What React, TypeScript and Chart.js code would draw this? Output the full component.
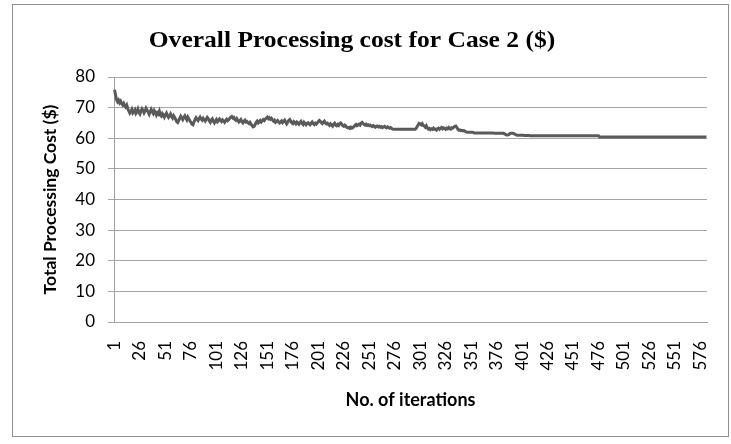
import React, { useEffect, useRef } from "react";
import { Chart, registerables } from "chart.js";

Chart.register(...registerables);

// Total processing cost per iteration (Case 2)
const costs: number[] = [
  75.8, 74.2, 72.6, 71.9, 72.4, 71.6, 72.1, 71.3, 70.9, 71.4,
  70.6, 70.2, 70.8, 69.7, 68.9, 68.2, 68.7, 69.4, 68.3, 68.8,
  69.3, 68.1, 68.6, 69.5, 68.4, 67.9, 68.8, 69.6, 69.1, 68.3,
  68.9, 69.8, 69.2, 68.5, 67.8, 68.6, 69.4, 68.7, 68.1, 69.0,
  68.4, 67.6, 68.3, 67.9, 68.8, 67.5, 67.2, 68.1, 67.7, 66.9,
  67.6, 68.2, 67.4, 66.8, 67.3, 67.9, 67.1, 66.6, 67.4, 66.9,
  66.2, 65.4, 65.1, 65.8, 66.5, 67.2, 66.7, 66.1, 66.8, 67.3,
  66.6, 66.0, 66.9, 66.3, 65.7, 65.2, 64.6, 64.4, 65.3, 66.1,
  66.7, 66.2, 65.8, 66.4, 66.9, 66.3, 65.9, 66.5, 66.0, 65.6,
  66.2, 66.8, 66.4, 65.7, 65.2, 65.9, 66.3, 65.5, 65.0, 65.6,
  66.1, 65.4, 65.8, 66.3, 65.9, 65.5, 66.0, 65.6, 65.2, 65.8,
  66.2, 65.7, 66.0, 66.5, 66.9, 67.1, 66.6, 66.8, 66.2, 65.9,
  66.4, 65.8, 65.3, 65.7, 66.1, 65.4, 65.0, 65.6, 65.9, 65.3,
  65.5, 65.1, 64.8, 65.2, 64.6, 64.1, 63.7, 63.9, 64.5, 65.2,
  65.6, 65.0, 65.4, 65.8, 65.3, 65.7, 66.1, 65.8, 66.3, 66.6,
  66.9, 66.4, 66.7, 66.2, 66.5, 66.0, 65.6, 65.9, 65.2, 65.5,
  65.8, 65.3, 65.0, 65.4, 65.7, 65.1, 65.5, 65.9, 65.3, 64.7,
  65.2, 65.8, 66.1, 65.6, 65.0, 64.8, 65.4, 65.1, 64.7, 65.3,
  65.0, 64.6, 65.1, 65.5, 64.9, 64.5, 65.2, 64.8, 64.4, 64.9,
  65.1, 64.7, 64.4, 64.9, 65.3, 64.8, 64.5, 64.9, 64.6, 65.0,
  65.4, 65.8, 65.5, 65.1, 64.8, 65.3, 65.6, 65.0, 64.7, 64.9,
  64.5, 64.2, 64.7, 64.4, 64.0, 64.6, 64.9, 64.3, 64.1, 64.5,
  64.2, 64.8, 65.0, 64.6, 64.1, 63.9, 64.3, 64.0, 63.6, 63.4,
  63.5, 63.2, 63.6, 63.3, 63.5, 63.8, 64.2, 64.5, 64.1, 64.4,
  64.6, 64.3, 64.9, 65.2, 64.8, 64.5, 64.3, 64.6, 64.2, 64.4,
  64.1, 64.3, 64.0, 63.8, 64.1, 63.9, 63.6, 63.9, 64.0, 63.7,
  63.9, 63.6, 63.8, 63.5, 63.7, 63.9, 63.6, 63.4, 63.7, 63.5,
  63.3, 63.5, 63.2, 63.0, 62.9, 62.9, 62.9, 62.9, 62.9, 62.9,
  62.9, 62.9, 62.9, 62.9, 62.9, 62.9, 62.9, 62.9, 62.9, 62.9,
  62.9, 62.9, 62.9, 62.9, 62.9, 62.9, 63.2, 63.8, 64.3, 64.9,
  64.7, 64.4, 64.8, 64.2, 64.0, 63.6, 64.1, 63.4, 63.0, 63.2,
  62.8, 63.1, 62.9, 63.3, 62.9, 63.0, 62.7, 63.1, 63.3, 62.9,
  63.2, 63.5, 63.1, 63.4, 63.2, 62.9, 63.3, 63.1, 63.5, 63.2,
  63.0, 63.4, 63.3, 63.6, 63.9, 64.0, 63.5, 62.9, 62.6, 62.7,
  62.5, 62.6, 62.4, 62.5, 62.3, 62.1, 62.0, 62.0, 62.0, 62.0,
  62.0, 62.0, 61.9, 61.7, 61.7, 61.7, 61.7, 61.7, 61.7, 61.7,
  61.7, 61.7, 61.7, 61.7, 61.7, 61.7, 61.7, 61.7, 61.7, 61.7,
  61.7, 61.7, 61.7, 61.6, 61.6, 61.6, 61.6, 61.6, 61.6, 61.6,
  61.6, 61.6, 61.6, 61.4, 61.2, 61.1, 61.1, 61.2, 61.5, 61.6,
  61.6, 61.6, 61.5, 61.3, 61.1, 61.0, 61.0, 61.0, 61.0, 61.0,
  61.0, 61.0, 60.9, 60.9, 60.9, 60.9, 60.9, 60.9, 60.8, 60.8,
  60.8, 60.8, 60.8, 60.8, 60.8, 60.8, 60.8, 60.8, 60.8, 60.8,
  60.8, 60.8, 60.8, 60.8, 60.8, 60.8, 60.8, 60.8, 60.8, 60.8,
  60.8, 60.8, 60.8, 60.8, 60.8, 60.8, 60.8, 60.8, 60.8, 60.8,
  60.8, 60.8, 60.8, 60.8, 60.8, 60.8, 60.8, 60.8, 60.8, 60.8,
  60.8, 60.8, 60.8, 60.8, 60.8, 60.8, 60.8, 60.8, 60.8, 60.8,
  60.8, 60.8, 60.8, 60.8, 60.8, 60.8, 60.8, 60.8, 60.8, 60.8,
  60.8, 60.8, 60.8, 60.8, 60.8, 60.8, 60.4, 60.4, 60.4, 60.4,
  60.4, 60.4, 60.4, 60.4, 60.4, 60.4, 60.4, 60.4, 60.4, 60.4,
  60.4, 60.4, 60.4, 60.4, 60.4, 60.4, 60.4, 60.4, 60.4, 60.4,
  60.4, 60.4, 60.4, 60.4, 60.4, 60.4, 60.4, 60.4, 60.4, 60.4,
  60.4, 60.4, 60.4, 60.4, 60.4, 60.4, 60.4, 60.4, 60.4, 60.4,
  60.4, 60.4, 60.4, 60.4, 60.4, 60.4, 60.4, 60.4, 60.4, 60.4,
  60.4, 60.4, 60.4, 60.4, 60.4, 60.4, 60.4, 60.4, 60.4, 60.4,
  60.4, 60.4, 60.4, 60.4, 60.4, 60.4, 60.4, 60.4, 60.4, 60.4,
  60.4, 60.4, 60.4, 60.4, 60.4, 60.4, 60.4, 60.4, 60.4, 60.4,
  60.4, 60.4, 60.4, 60.4, 60.4, 60.4, 60.4, 60.4, 60.4, 60.4,
  60.4, 60.4, 60.4, 60.4, 60.4, 60.4, 60.4, 60.4, 60.4, 60.4,
  60.4, 60.4,
];

// Iteration numbers (category labels)
const iterations: string[] = costs.map((_, i) => String(i + 1));

// Every 25th iteration gets a label on the x axis
const labelStep = 25;

// Y axis range
const yMin = 0;
const yMax = 80;
const yStep = 10;

const chartTitle = "Overall Processing cost for Case 2 ($)";
const xTitle = "No. of iterations";
const yTitle = "Total Processing Cost ($)";

const W = 731;
const H = 444;

const sansFamily = "Lato, 'Open Sans', sans-serif";

// Outer frame and serif title drawn straight on the canvas
const framePlugin = {
  id: "frameAndTitle",
  beforeDraw(chart: Chart) {
    const ctx = chart.ctx;
    ctx.save();
    ctx.fillStyle = "#ffffff";
    ctx.fillRect(0, 0, W, H);
    ctx.strokeStyle = "#8f8f8f";
    ctx.lineWidth = 1;
    ctx.strokeRect(12.5, 4.5, 716, 432);
    ctx.restore();
  },
  afterDraw(chart: Chart) {
    const ctx = chart.ctx;
    ctx.save();
    ctx.fillStyle = "#000000";
    ctx.font = 'bold 23px "Liberation Serif", "Times New Roman", serif';
    ctx.textAlign = "center";
    ctx.textBaseline = "alphabetic";
    ctx.translate(352, 47);
    ctx.scale(1.11, 1);
    ctx.fillText(chartTitle, 0, 0);
    ctx.restore();
  },
};

export default function App() {
  const canvasRef = useRef<HTMLCanvasElement | null>(null);

  useEffect(() => {
    if (!canvasRef.current) return;
    const chart = new Chart(canvasRef.current, {
      type: "line",
      data: {
        labels: iterations,
        datasets: [
          {
            label: "Total Processing Cost",
            data: costs,
            borderColor: "#5a5a5a",
            backgroundColor: "#5a5a5a",
            borderWidth: 3,
            pointRadius: 0,
            pointHoverRadius: 0,
            tension: 0,
            fill: false,
          },
        ],
      },
      options: {
        responsive: false,
        animation: false,
        layout: { padding: { left: 12, top: 77, right: 24, bottom: 22 } },
        plugins: {
          legend: { display: false },
          title: { display: false },
          tooltip: { enabled: false },
        },
        scales: {
          x: {
            type: "category",
            offset: true,
            grid: { display: false, drawTicks: false },
            border: { display: true, color: "#a0a0a0", width: 1 },
            ticks: {
              autoSkip: false,
              minRotation: 90,
              maxRotation: 90,
              padding: 19,
              color: "#000000",
              font: { family: sansFamily, size: 17 },
              callback: function (this: any, value: any, index: number) {
                return index % labelStep === 0 ? this.getLabelForValue(value) : null;
              },
            },
            title: {
              display: true,
              text: xTitle,
              color: "#000000",
              font: { family: sansFamily, size: 18, weight: "bold" },
              padding: { top: 0, bottom: 11.2 },
            },
            afterFit(scale: any) {
              scale.height = 100;
              scale.paddingLeft = 0;
              scale.paddingRight = 0;
            },
          },
          y: {
            min: yMin,
            max: yMax,
            grid: {
              color: "#a6a6a6",
              lineWidth: 1,
              drawTicks: true,
              tickLength: 6,
            },
            border: { display: true, color: "#a0a0a0", width: 1 },
            ticks: {
              stepSize: yStep,
              padding: 13,
              color: "#000000",
              font: { family: sansFamily, size: 17 },
            },
            title: {
              display: true,
              text: yTitle,
              color: "#000000",
              font: { family: sansFamily, size: 17.5, weight: "bold" },
              padding: { top: 27.5, bottom: 0 },
            },
            afterFit(scale: any) {
              scale.width = 102;
            },
          },
        },
      },
      plugins: [framePlugin],
    });
    return () => chart.destroy();
  }, []);

  return (
    <div style={{ position: "absolute", left: 0, top: 0, width: W, height: H, background: "#fff" }}>
      <canvas ref={canvasRef} width={W} height={H} style={{ display: "block" }} />
    </div>
  );
}
